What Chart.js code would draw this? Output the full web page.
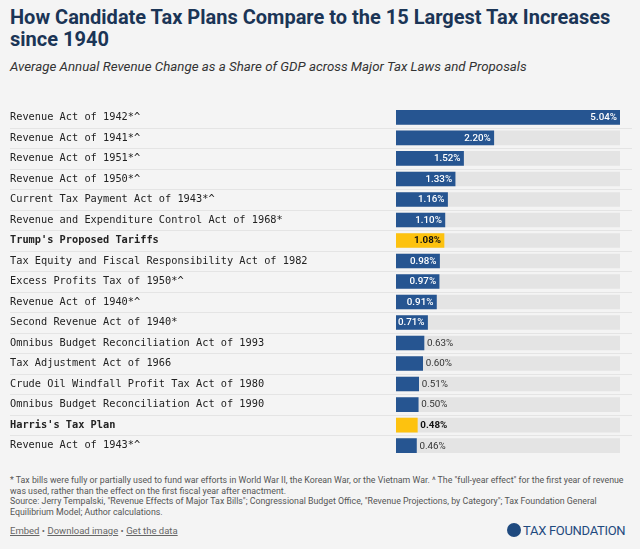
<!DOCTYPE html>
<html>
<head>
<meta charset="utf-8">
<script src="https://cdn.jsdelivr.net/npm/chart.js@4.4.1/dist/chart.umd.min.js"></script>
<style>
  html, body { margin: 0; padding: 0; }
  body { width: 640px; height: 549px; background: #f4f4f4; position: relative; overflow: hidden; font-family: Roboto, "Noto Sans", sans-serif; }
  .title { position: absolute; left: 10px; top: 6px; width: 625px; font-size: 20px; font-weight: 700; line-height: 22px; color: #1b3556; }
  .subtitle { position: absolute; left: 10px; top: 59px; font-size: 13.3px; font-style: italic; color: #333; }
  .chart-wrap { position: absolute; left: 0; top: 101px; width: 640px; height: 361px; }
  .notes { position: absolute; left: 10px; top: 475px; width: 625px; font-size: 8.8px; line-height: 10.5px; color: #555; }
  .links { position: absolute; left: 10px; top: 525px; font-size: 9.5px; color: #666; }
  .links span { text-decoration: underline; }
  .logo { position: absolute; left: 507px; top: 523px; font-size: 13px; color: #1f4a7f; letter-spacing: -0.3px; }
  .logo i { display: inline-block; width: 14px; height: 14px; border-radius: 50%; background: #1f4a7f; vertical-align: -2px; margin-right: 2px; }
</style>
</head>
<body>
<div class="title">How Candidate Tax Plans Compare to the 15 Largest Tax Increases since 1940</div>
<div class="subtitle">Average Annual Revenue Change as a Share of GDP across Major Tax Laws and Proposals</div>
<div class="chart-wrap"><canvas id="bar-chart"></canvas></div>
<div class="notes">* Tax bills were fully or partially used to fund war efforts in World War II, the Korean War, or the Vietnam War. ^ The "full-year effect" for the first year of revenue was used, rather than the effect on the first fiscal year after enactment.<br>Source: Jerry Tempalski, "Revenue Effects of Major Tax Bills"; Congressional Budget Office, "Revenue Projections, by Category"; Tax Foundation General Equilibrium Model; Author calculations.</div>
<div class="links"><span>Embed</span> &bull; <span>Download image</span> &bull; <span>Get the data</span></div>
<div class="logo"><i></i>TAX FOUNDATION</div>

<script>
// ---- data ----
const laws = [
  'Revenue Act of 1942*^',
  'Revenue Act of 1941*^',
  'Revenue Act of 1951*^',
  'Revenue Act of 1950*^',
  'Current Tax Payment Act of 1943*^',
  'Revenue and Expenditure Control Act of 1968*',
  "Trump's Proposed Tariffs",
  'Tax Equity and Fiscal Responsibility Act of 1982',
  'Excess Profits Tax of 1950*^',
  'Revenue Act of 1940*^',
  'Second Revenue Act of 1940*',
  'Omnibus Budget Reconciliation Act of 1993',
  'Tax Adjustment Act of 1966',
  'Crude Oil Windfall Profit Tax Act of 1980',
  'Omnibus Budget Reconciliation Act of 1990',
  "Harris's Tax Plan",
  'Revenue Act of 1943*^'
];
const revenueShare = [5.04, 2.20, 1.52, 1.33, 1.16, 1.10, 1.08, 0.98, 0.97, 0.91, 0.71, 0.63, 0.60, 0.51, 0.50, 0.48, 0.46];
const candidatePlans = ["Trump's Proposed Tariffs", "Harris's Tax Plan"];
const X_MAX = 5.04;

const COLORS = {
  bar: '#265591',
  candidate: '#fdc20f',
  track: '#e4e4e4',
  rule: '#e4e4e4',
  label: '#222',
  valueOut: '#333'
};

const isCandidate = i => candidatePlans.includes(laws[i]);
const trackValues = laws.map(() => X_MAX);

// Row separators across full width
const rowRules = {
  id: 'rowRules',
  beforeDatasetsDraw(chart) {
    const { ctx } = chart;
    const y = chart.scales.y;
    ctx.save();
    ctx.strokeStyle = COLORS.rule;
    ctx.lineWidth = 1;
    for (let i = 0; i < laws.length - 1; i++) {
      const py = Math.round((y.getPixelForValue(i) + y.getPixelForValue(i + 1)) / 2) + 0.5;
      ctx.beginPath();
      ctx.moveTo(10, py);
      ctx.lineTo(632, py);
      ctx.stroke();
    }
    ctx.restore();
  }
};

// Value labels at the bar ends
const valueLabels = {
  id: 'valueLabels',
  afterDatasetsDraw(chart) {
    const { ctx } = chart;
    const meta = chart.getDatasetMeta(0);
    ctx.save();
    ctx.textBaseline = 'middle';
    meta.data.forEach((bar, i) => {
      const v = revenueShare[i];
      const txt = v.toFixed(2) + '%';
      const inside = v >= 0.7;
      const bold = isCandidate(i);
      ctx.font = (bold ? '700 ' : inside ? '500 ' : '400 ') + '9.8px Roboto';
      if (inside) {
        ctx.textAlign = 'right';
        ctx.fillStyle = bold ? '#111' : '#fff';
        ctx.fillText(txt, bar.x - 3, bar.y + 0.5);
      } else {
        ctx.textAlign = 'left';
        ctx.fillStyle = bold ? '#111' : COLORS.valueOut;
        ctx.fillText(txt, bar.x + 3, bar.y + 0.5);
      }
    });
    ctx.restore();
  }
};

new Chart(document.getElementById('bar-chart'), {
  type: 'bar',
  data: {
    labels: laws,
    datasets: [
      {
        data: revenueShare,
        backgroundColor: revenueShare.map((_, i) => isCandidate(i) ? COLORS.candidate : COLORS.bar),
        barThickness: 14,
        grouped: false,
        order: 1
      },
      {
        data: trackValues,
        backgroundColor: COLORS.track,
        barThickness: 14,
        grouped: false,
        order: 2
      }
    ]
  },
  options: {
    indexAxis: 'y',
    responsive: true,
    maintainAspectRatio: false,
    animation: false,
    layout: { padding: { left: 10, right: 20, top: 0, bottom: 0 } },
    plugins: { legend: { display: false }, tooltip: { enabled: false } },
    scales: {
      x: { display: false, min: 0, max: X_MAX },
      y: {
        grid: { display: false },
        border: { display: false },
        afterFit: scale => { scale.width = 386; },
        ticks: {
          crossAlign: 'far',
          padding: 0,
          color: COLORS.label,
          font: ctx => ({ family: '"DejaVu Sans Mono", monospace', size: 10.3, weight: isCandidate(ctx.index) ? 'bold' : 'normal' })
        }
      }
    }
  },
  plugins: [rowRules, valueLabels]
});
</script>
</body>
</html>
